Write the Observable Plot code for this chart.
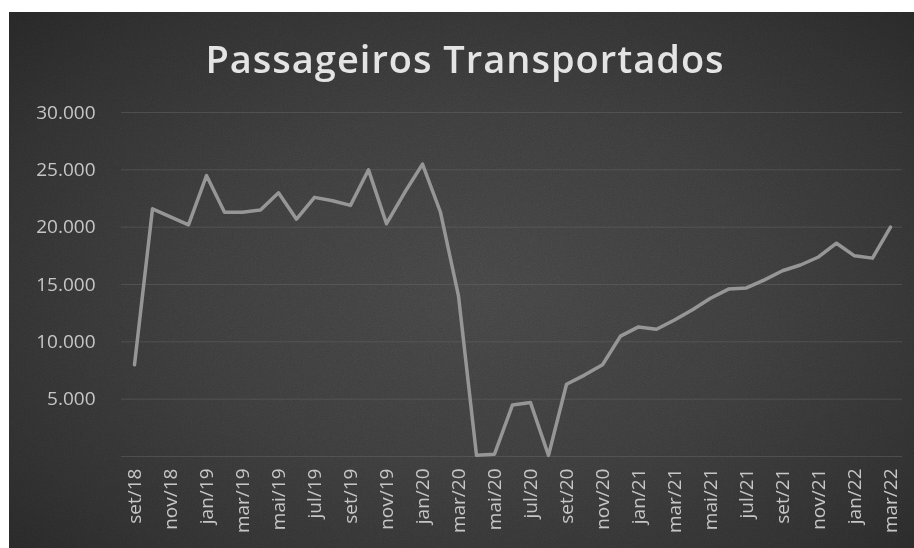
<!DOCTYPE html>
<html>
<head>
<meta charset="utf-8">
<script src="https://cdn.jsdelivr.net/npm/d3@7"></script>
<script src="https://cdn.jsdelivr.net/npm/@observablehq/plot@0.6"></script>
<style>
  html, body { margin: 0; padding: 0; background: #ffffff; }
  #wrap { position: relative; width: 914px; height: 548px; overflow: hidden; background: #ffffff; }
  #bg {
    position: absolute; left: 9px; top: 12px; width: 905px; height: 536px;
    background: radial-gradient(ellipse 70% 75% at 52% 52%, #444444 0%, #3b3b3b 45%, #2f2f2f 80%, #262626 100%);
  }
  #noise {
    position: absolute; left: 9px; top: 12px; width: 905px; height: 536px; opacity: 0.35;
    background-image: url("data:image/svg+xml;utf8,<svg xmlns='http://www.w3.org/2000/svg' width='905' height='536'><filter id='n'><feTurbulence type='fractalNoise' baseFrequency='1.1' numOctaves='2' stitchTiles='stitch'/><feColorMatrix type='saturate' values='0'/></filter><rect width='100%' height='100%' filter='url(%23n)'/></svg>");
    mix-blend-mode: overlay;
  }
  #title {
    position: absolute; left: 0; width: 930px; top: 39px; line-height: 38px;
    text-align: center; font-family: 'Open Sans', sans-serif; font-weight: 600;
    font-size: 38px; color: #e4e4e4; letter-spacing: 1px;
  }
  #chart { position: absolute; left: 0; top: 100px; }
</style>
</head>
<body>
<div id="wrap">
  <div id="bg"></div>
  <div id="noise"></div>
  <div id="title">Passageiros Transportados</div>
  <div id="chart"></div>
</div>
<script>
const months = [
  "set/18","out/18","nov/18","dez/18",
  "jan/19","fev/19","mar/19","abr/19","mai/19","jun/19","jul/19","ago/19","set/19","out/19","nov/19","dez/19",
  "jan/20","fev/20","mar/20","abr/20","mai/20","jun/20","jul/20","ago/20","set/20","out/20","nov/20","dez/20",
  "jan/21","fev/21","mar/21","abr/21","mai/21","jun/21","jul/21","ago/21","set/21","out/21","nov/21","dez/21",
  "jan/22","fev/22","mar/22"
];
const passengers = [
  8000, 21600, 20900, 20200,
  24500, 21300, 21300, 21500, 23000, 20700, 22600, 22300, 21900, 25000, 20300, 23000,
  25500, 21300, 14000, 100, 200, 4500, 4700, 100, 6300, 7100, 8000, 10500,
  11300, 11100, 11900, 12800, 13800, 14600, 14700, 15400, 16200, 16700, 17400, 18600,
  17500, 17300, 20000
];
const yTickValues = [0, 5000, 10000, 15000, 20000, 25000, 30000];

const data = months.map((m, i) => ({month: m, value: passengers[i]}));
const fmt = d => d3.format(",")(d).replace(/,/g, ".");

const chart = Plot.plot({
  width: 914,
  height: 448,
  marginLeft: 121,
  marginRight: 12,
  marginTop: 12,
  marginBottom: 92,
  style: {background: "transparent", color: "#c6c6c6", fontFamily: "'Open Sans', sans-serif", fontSize: "19px", overflow: "visible"},
  x: {
    type: "point", domain: months, padding: 0.5, label: null,
    tickRotate: -90, tickSize: 0, tickPadding: 12,
    tickFormat: d => months.indexOf(d) % 2 === 0 ? d : ""
  },
  y: {
    domain: [0, 30000], ticks: 6, label: null, tickSize: 0, tickPadding: 26,
    tickFormat: d => d === 0 ? "" : fmt(d)
  },
  marks: [
    Plot.ruleY(yTickValues, {stroke: "#6a6a6a", strokeOpacity: 0.45, strokeWidth: 1}),
    Plot.line(data, {x: "month", y: "value", stroke: "#969696", strokeWidth: 3.5, strokeLinejoin: "round", strokeLinecap: "round"})
  ]
});
document.getElementById("chart").appendChild(chart);
</script>
</body>
</html>
